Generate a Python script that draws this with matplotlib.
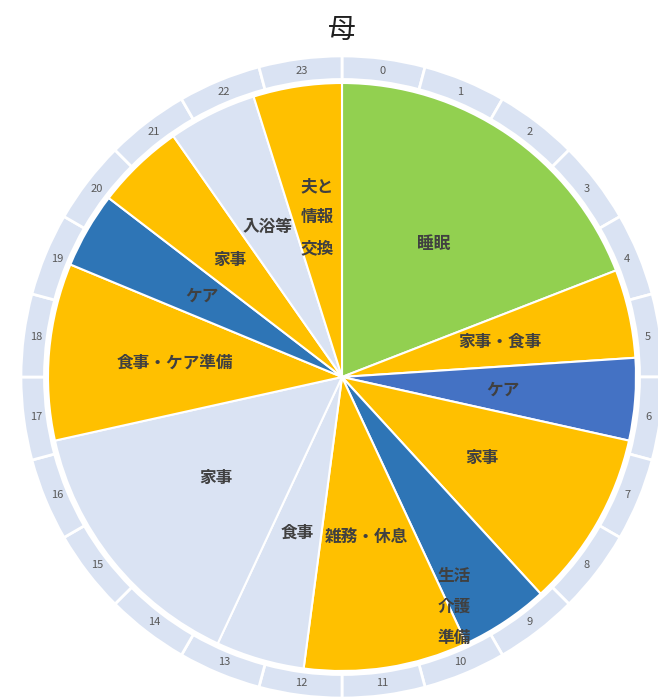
import numpy as np
import matplotlib.pyplot as plt

plt.rcParams['font.family'] = ['Noto Sans CJK JP', 'DejaVu Sans']

# 一日の行動（開始時刻と項目）
starts = ["0:00", "4:35", "5:45", "6:50", "9:10", "10:20", "12:30",
          "13:40", "17:10", "19:30", "20:30", "21:40", "22:50"]
labels = ["睡眠", "家事・食事", "ケア", "家事", "生活\n介護\n準備", "雑務・休息", "食事",
          "家事", "食事・ケア準備", "ケア", "家事", "入浴等", "夫と\n情報\n交換"]
colors = ["#92D050", "#FFC000", "#4472C4", "#FFC000", "#2E75B6", "#FFC000", "#DAE3F3",
          "#DAE3F3", "#FFC000", "#2E75B6", "#FFC000", "#DAE3F3", "#FFC000"]
hours = [str(h) for h in range(24)]

start_h = np.array([int(s.split(":")[0]) + int(s.split(":")[1]) / 60 for s in starts])
durations = np.diff(np.append(start_h, 24))

fig = plt.figure(figsize=(6.58, 7.0), dpi=100)
ax = fig.add_axes([0, 0, 1, 1])
scale = 294
cx, cy = 342, 377

# 外側の時刻リング
ax.pie([1] * 24, radius=1.092, startangle=90, counterclock=False,
       colors=["#DAE3F3"] * 24,
       wedgeprops=dict(width=0.08, edgecolor="white", linewidth=2))
for i, h in enumerate(hours):
    ang = np.deg2rad(90 - (i + 0.5) * 15)
    ax.text(1.05 * np.cos(ang), 1.05 * np.sin(ang), h, ha="center", va="center",
            fontsize=8, color="#595959")

# 行動のパイ
ax.pie(durations, radius=1.0, startangle=90, counterclock=False, colors=colors,
       wedgeprops=dict(edgecolor="white", linewidth=1.5))

mid_h = start_h + durations / 2
for i, lab in enumerate(labels):
    h, r = mid_h[i], 0.55
    if lab.startswith("生活"):
        h, r = 10.27, 0.87
    elif lab in ("入浴等", "食事・ケア準備"):
        r = 0.57
    ang = np.deg2rad(90 - h * 15)
    ax.text(r * np.cos(ang), r * np.sin(ang), lab, ha="center", va="center",
            fontsize=12, fontweight="bold", color="#404040", linespacing=1.9)

# pie() が軸範囲を上書きするので最後に設定
ax.set_xlim(-cx / scale, (658 - cx) / scale)
ax.set_ylim(-(700 - cy) / scale, cy / scale)
ax.set_aspect('equal')
ax.axis('off')

fig.text(cx / 658, 1 - 30 / 700, "母", ha="center", va="center", fontsize=20,
         color="#202020")

fig.savefig("out.png", dpi=100)
